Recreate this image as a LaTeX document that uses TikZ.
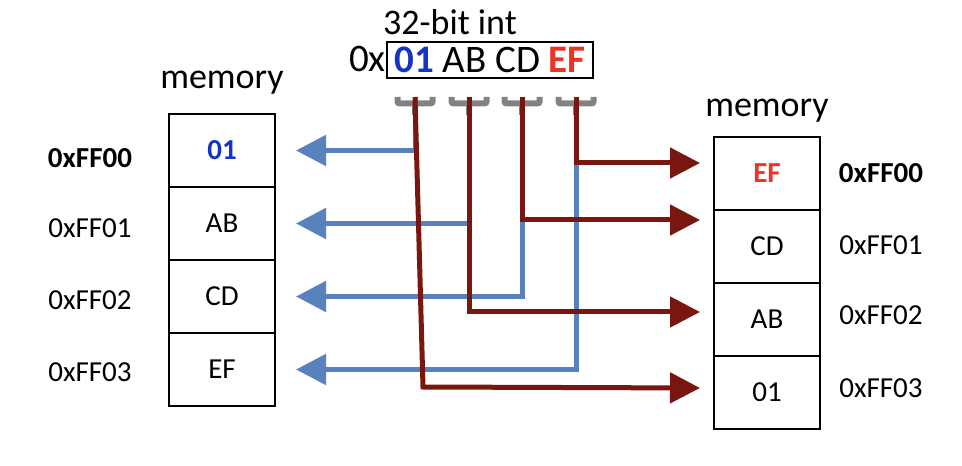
\documentclass[tikz,border=0pt]{standalone}
\usepackage{fontspec}
\setmainfont{Carlito}
\usetikzlibrary{positioning,arrows.meta}
\definecolor{wireblue}{RGB}{88,130,190}
\definecolor{wirered}{RGB}{122,22,16}
\definecolor{clampgray}{RGB}{130,130,130}
\definecolor{msbblue}{RGB}{22,52,196}
\definecolor{lsbred}{RGB}{235,52,36}

\begin{document}
\begin{tikzpicture}[x=1bp,y=-1bp,
   cell/.style={draw,line width=1.5bp,minimum width=106bp,minimum height=73bp,outer sep=0pt,inner sep=0pt,font=\fontsize{29bp}{34bp}\selectfont},
   addr/.style={anchor=base,inner sep=0pt,font=\fontsize{29bp}{34bp}\selectfont},
   title/.style={anchor=base,inner sep=0pt,font=\fontsize{36bp}{42bp}\selectfont},
   clamp/.style={clampgray,line width=6bp,rounded corners=2bp},
   big/.style={wireblue,line width=5bp,-{Triangle[length=30bp,width=30bp]}},
   little/.style={wirered,line width=5bp,-{Triangle[length=30bp,width=30bp]}}]
  \useasboundingbox (0,0) rectangle (962,466);
  \node[title] (caption) at (450,35) {32-bit int};
  \node[draw,line width=1.5bp,minimum width=206bp,minimum height=36bp,inner sep=0pt,
        font=\fontsize{39bp}{46bp}\selectfont] (word) at (490,60)
        {\textcolor{msbblue}{\textbf{01}} AB CD \textcolor{lsbred}{\textbf{EF}}};
  \node[anchor=base east,inner sep=1bp,font=\fontsize{39bp}{46bp}\selectfont] (pfx) at (387,72) {0x};

  \node[title] (lmem) at (222,89) {memory};
  \node[cell] (l1) at (222,150.5) {\textcolor{msbblue}{\textbf{01}}};
  \node[cell,below=0pt of l1] (l2) {AB};
  \node[cell,below=0pt of l2] (l3) {CD};
  \node[cell,below=0pt of l3] (l4) {EF};
  \node[addr] (la1) at (90,168) {\textbf{0xFF00}};
  \node[addr] (la2) at (90,238) {0xFF01};
  \node[addr] (la3) at (90,310) {0xFF02};
  \node[addr] (la4) at (90,382) {0xFF03};

  \node[title] (rmem) at (767,117) {memory};
  \node[cell] (r1) at (767,173.5) {\textcolor{lsbred}{\textbf{EF}}};
  \node[cell,below=0pt of r1] (r2) {CD};
  \node[cell,below=0pt of r2] (r3) {AB};
  \node[cell,below=0pt of r3] (r4) {01};
  \node[addr] (ra1) at (881,183) {\textbf{0xFF00}};
  \node[addr] (ra2) at (881,255) {0xFF01};
  \node[addr] (ra3) at (881,325) {0xFF02};
  \node[addr] (ra4) at (881,397) {0xFF03};

  \coordinate (b1) at (415,97);
  \coordinate (b2) at (469,97);
  \coordinate (b3) at (522,97);
  \coordinate (b4) at (576,97);
  \coordinate (s1) at (700,163);
  \coordinate (s2) at (700,220);
  \coordinate (s3) at (700,312);
  \coordinate (s4) at (700,388);
  \coordinate (k1) at (423,387);

  \foreach \b in {b1,b2,b3,b4}{
    \draw[clamp] ([xshift=-17.5bp]\b) -- ++(0,6.5) -- ++(35,0) -- ++(0,-6.5);
    \draw[clamp] (\b) ++(0,6.5) -- ++(0,11.5);
  }

  \draw[big] (b1) |- ([xshift=21bp]l1.east);
  \draw[big] (b2) |- ([xshift=21bp]l2.east);
  \draw[big] (b3) |- ([xshift=21bp]l3.east);
  \draw[big] (b4) |- ([xshift=21bp]l4.east);

  \draw[little] (b4) |- (s1);
  \draw[little] (b3) |- (s2);
  \draw[little] (b2) |- (s3);
  \draw[little] (b1) -- (k1) -- (s4);
\end{tikzpicture}
\end{document}
